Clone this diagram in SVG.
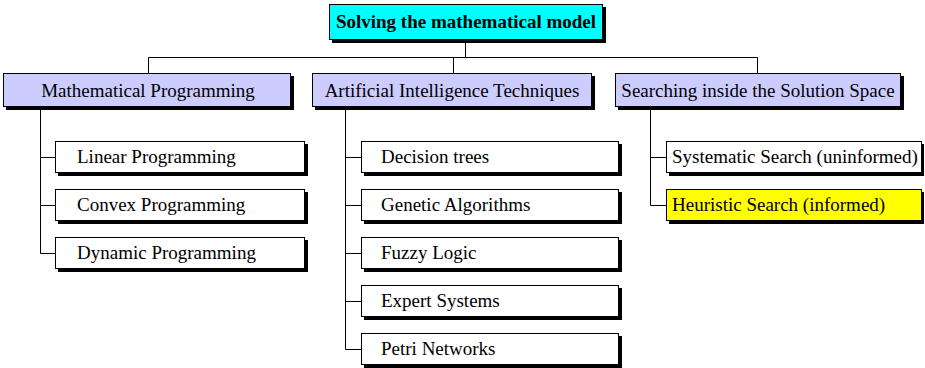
<svg xmlns="http://www.w3.org/2000/svg" width="925" height="368" viewBox="0 0 925 368">
<style>
.sh{fill:#000}
.bx{stroke:#000;stroke-width:1}
.t{font-family:"Liberation Serif","Times New Roman",serif;font-size:19px;fill:#000}
.c{text-anchor:middle}
.b{font-weight:bold}
.ln{stroke:#000;stroke-width:1;fill:none}
</style>
<rect width="925" height="368" fill="#fff"/>
<g id="connectors">
<path class="ln" d="M465.5 40V57.5M148.5 57.5H757.5M148.5 57.5V73M453.5 57.5V73M757.5 57.5V73"/>
<path class="ln" d="M40.5 107V253.5M40.5 157.5H55M40.5 205.5H55M40.5 253.5H55"/>
<path class="ln" d="M345.5 107V349.5M345.5 157.5H361M345.5 205.5H361M345.5 253.5H361M345.5 301.5H361M345.5 349.5H361"/>
<path class="ln" d="M650.5 107V205.5M650.5 157.5H666M650.5 205.5H666"/>
</g>
<g id="root">
<rect class="sh" x="332" y="7" width="274" height="36"/>
<rect class="bx" x="329.5" y="4.5" width="273" height="35" fill="#00FFFF"/>
<text class="t c b" x="466" y="28">Solving the mathematical model</text>
</g>
<g id="math">
<rect class="sh" x="6" y="76" width="288" height="34"/>
<rect class="bx" x="3.5" y="73.5" width="287" height="33" fill="#CCCCFF"/>
<text class="t c" x="148" y="97">Mathematical Programming</text>
</g>
<g id="ai">
<rect class="sh" x="315" y="76" width="280" height="34"/>
<rect class="bx" x="312.5" y="73.5" width="279" height="33" fill="#CCCCFF"/>
<text class="t c" x="452" y="97">Artificial Intelligence Techniques</text>
</g>
<g id="search">
<rect class="sh" x="618" y="76" width="286" height="34"/>
<rect class="bx" x="615.5" y="73.5" width="285" height="33" fill="#CCCCFF"/>
<text class="t c" x="758" y="97">Searching inside the Solution Space</text>
</g>
<g id="linear">
<rect class="sh" x="58" y="144" width="250" height="32"/>
<rect class="bx" x="55.5" y="141.5" width="249" height="31" fill="#fff"/>
<text class="t" x="77" y="163">Linear Programming</text>
</g>
<g id="convex">
<rect class="sh" x="58" y="192" width="250" height="32"/>
<rect class="bx" x="55.5" y="189.5" width="249" height="31" fill="#fff"/>
<text class="t" x="77" y="211">Convex Programming</text>
</g>
<g id="dynamic">
<rect class="sh" x="58" y="240" width="250" height="32"/>
<rect class="bx" x="55.5" y="237.5" width="249" height="31" fill="#fff"/>
<text class="t" x="77" y="259">Dynamic Programming</text>
</g>
<g id="decision">
<rect class="sh" x="364" y="144" width="258" height="32"/>
<rect class="bx" x="361.5" y="141.5" width="257" height="31" fill="#fff"/>
<text class="t" x="381" y="163">Decision trees</text>
</g>
<g id="genetic">
<rect class="sh" x="364" y="192" width="258" height="32"/>
<rect class="bx" x="361.5" y="189.5" width="257" height="31" fill="#fff"/>
<text class="t" x="381" y="211">Genetic Algorithms</text>
</g>
<g id="fuzzy">
<rect class="sh" x="364" y="240" width="258" height="32"/>
<rect class="bx" x="361.5" y="237.5" width="257" height="31" fill="#fff"/>
<text class="t" x="381" y="259">Fuzzy Logic</text>
</g>
<g id="expert">
<rect class="sh" x="364" y="288" width="258" height="32"/>
<rect class="bx" x="361.5" y="285.5" width="257" height="31" fill="#fff"/>
<text class="t" x="381" y="307">Expert Systems</text>
</g>
<g id="petri">
<rect class="sh" x="364" y="336" width="258" height="32"/>
<rect class="bx" x="361.5" y="333.5" width="257" height="31" fill="#fff"/>
<text class="t" x="381" y="355">Petri Networks</text>
</g>
<g id="systematic">
<rect class="sh" x="669" y="144" width="255" height="32"/>
<rect class="bx" x="666.5" y="141.5" width="255" height="31" fill="#fff"/>
<text class="t" x="672" y="163">Systematic Search (uninformed)</text>
</g>
<g id="heuristic">
<rect class="sh" x="669" y="192" width="255" height="32"/>
<rect class="bx" x="666.5" y="189.5" width="255" height="31" fill="#FFFF00"/>
<text class="t" x="672" y="211">Heuristic Search (informed)</text>
</g>
</svg>
